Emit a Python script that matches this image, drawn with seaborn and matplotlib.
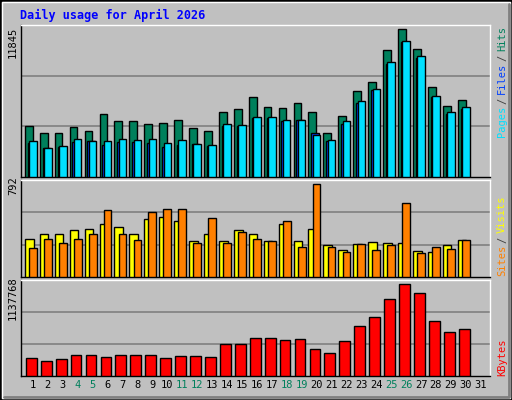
import numpy as np
import matplotlib
matplotlib.use("Agg")
import matplotlib.pyplot as plt
import matplotlib.patches as mpatches
import seaborn as sns

days = np.arange(1, 32)
weekend = [4, 5, 11, 12, 18, 19, 25, 26]

# 30 days of data (day 31 empty)
hits = [4047, 3484, 3484, 3966, 3645, 5011, 4449, 4449, 4207, 4288, 4529, 3886, 3645, 5172, 5413,
        6378, 5574, 5494, 5896, 5172, 3484, 4851, 6860, 7584, 10157, 11845, 10237, 7182, 5654, 6137]
files = [2680, 2278, 2412, 2760, 2841, 2519, 2760, 2760, 2680, 2358, 2519, 2600, 2492, 4047, 4074,
         4717, 4717, 4476, 4529, 3484, 2841, 4208, 5896, 6968, 9032, 10800, 9514, 6405, 5012, 5414]
pages = [2841, 2278, 2439, 3002, 2841, 2841, 3002, 2921, 3002, 2680, 2921, 2600, 2519, 4208, 4127,
         4770, 4770, 4529, 4529, 3323, 2921, 4449, 6057, 7022, 9192, 10881, 9675, 6459, 5172, 5574]
visits = [327, 362, 370, 396, 405, 448, 422, 370, 491, 508, 474, 310, 370, 310, 396,
          370, 310, 448, 310, 405, 276, 232, 284, 301, 293, 293, 224, 215, 276, 319]
sites = [250, 327, 293, 327, 370, 568, 370, 319, 551, 577, 577, 293, 499, 293, 387,
         327, 310, 474, 258, 792, 258, 215, 284, 232, 276, 628, 207, 258, 241, 319]
kbytes = [215904, 190992, 203448, 253272, 253272, 228360, 253272, 253272, 253272, 215904,
          240816, 240816, 228360, 390288, 390288, 465024, 465024, 440112, 452568, 328008,
          278184, 427656, 614496, 726600, 950808, 1137768, 1025544, 676776, 539760, 577128]

SILVER = '#C0C0C0'
C_HITS, C_FILES, C_PAGES = '#00805C', '#0040FF', '#00E0FF'
C_VISITS, C_SITES, C_KB = '#FFFF00', '#FF8000', '#FF0000'
MONO = 'DejaVu Sans Mono'

sns.set_theme(style='white')
plt.rcParams['font.family'] = ['DejaVu Sans Mono', 'DejaVu Sans']

W, H = 512, 400
fig = plt.figure(figsize=(W / 100, H / 100), dpi=100, facecolor=SILVER)

# bevelled frame
fig.patches.append(mpatches.Rectangle((0, 0), 1, 1, transform=fig.transFigure,
                                      fill=False, edgecolor='black', linewidth=2))
fig.patches.append(mpatches.Rectangle((2 / W, 2 / H), 1 - 4 / W, 1 - 4 / H, transform=fig.transFigure,
                                      fill=False, edgecolor='white', linewidth=1))
fig.lines.append(plt.Line2D([4 / W, 1 - 3 / W, 1 - 3 / W], [3 / H, 3 / H, 1 - 4 / H],
                            transform=fig.transFigure, color='#808080', linewidth=2))


def make_ax(top, bottom):
    ax = fig.add_axes([21 / W, 1 - bottom / H, 469 / W, (bottom - top) / H])
    ax.set_facecolor(SILVER)
    for s in ['left', 'bottom']:
        ax.spines[s].set_color('black')
    for s in ['top', 'right']:
        ax.spines[s].set_color('white')
    for s in ax.spines.values():
        s.set_linewidth(1)
    ax.set_xlim(0.2, 31.62)
    return ax


def bars(ax, vals, offset, width, color):
    sns.barplot(x=days[:len(vals)] + offset, y=vals, native_scale=True, width=width,
                color=color, edgecolor='black', linewidth=1, saturation=1, ax=ax, zorder=3)


def grid(ax, top):
    ax.set_ylim(0, top)
    ax.set_yticks([top / 3, 2 * top / 3])
    ax.yaxis.grid(True, color='#808080', linewidth=1.2, zorder=0)
    ax.set_yticklabels([])
    ax.tick_params(length=0)
    ax.set_ylabel('')


ax1 = make_ax(25, 177)
bars(ax1, hits, -0.28, 0.52, C_HITS)
bars(ax1, files, -0.1, 0.5, C_FILES)
bars(ax1, pages, 0.0, 0.5, C_PAGES)
grid(ax1, 12134)
ax1.set_xticks([])

ax2 = make_ax(180, 277)
bars(ax2, visits, -0.25, 0.58, C_VISITS)
bars(ax2, sites, 0.0, 0.52, C_SITES)
grid(ax2, 826)
ax2.set_xticks([])

ax3 = make_ax(280, 376)
bars(ax3, kbytes, -0.11, 0.72, C_KB)
grid(ax3, 1183500)
ax3.set_xticks(days)
ax3.set_xticklabels([str(d) for d in days], fontsize=7.5, family=MONO)
for lab, d in zip(ax3.get_xticklabels(), days):
    lab.set_color(C_HITS if d in weekend else 'black')
ax3.tick_params(axis='x', pad=3)
ax3.set_xlabel('')

fig.text(20 / W, 1 - 15 / H, 'Daily usage for April 2026', color='#0000FF',
         fontsize=8.5, fontweight='bold', family=MONO, va='center')


def vtext(x, ybot, s, color):
    fig.text(x / W, 1 - ybot / H, s, color=color, rotation=90, fontsize=7.5,
             family=MONO, ha='center', va='bottom')


# max labels
vtext(13, 58, '11845', 'black')
vtext(13, 195, '792', 'black')
vtext(13, 320, '1137768', 'black')

# right-side legends
vtext(502, 137, 'Pages', C_PAGES)
vtext(502, 104, '/', '#404040')
vtext(502, 94, 'Files', C_FILES)
vtext(502, 61, '/', '#404040')
vtext(502, 51, 'Hits', C_HITS)
vtext(502, 276, 'Sites', C_SITES)
vtext(502, 243, '/', '#404040')
vtext(502, 233, 'Visits', C_VISITS)
vtext(502, 376, 'KBytes', C_KB)

fig.savefig('out.png', dpi=100, facecolor=SILVER)
